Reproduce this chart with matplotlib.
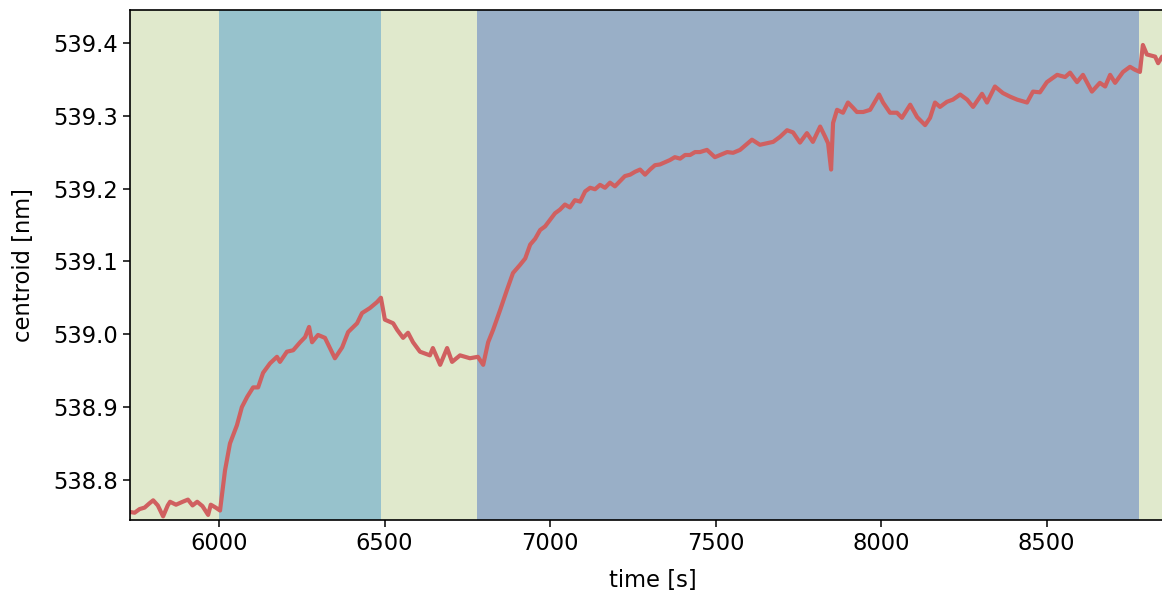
import numpy as np
import matplotlib
matplotlib.use("Agg")
import matplotlib.pyplot as plt

time_s = [5731, 5745, 5760, 5775, 5790, 5801, 5815, 5831, 5845, 5852, 5870, 5890,
          5906, 5920, 5934, 5950, 5967, 5975, 5990, 6003,
          6018, 6033, 6054, 6069, 6085, 6103, 6118, 6133, 6154, 6175, 6184, 6205,
          6224, 6245, 6260, 6272, 6281, 6299, 6320, 6335, 6350, 6372, 6390, 6417,
          6432, 6456, 6477, 6489, 6501, 6526, 6538, 6556, 6571, 6586, 6607, 6637,
          6646, 6668, 6689, 6704, 6728, 6758, 6782, 6798, 6813, 6828, 6849, 6870,
          6888, 6909, 6925, 6940, 6955, 6970, 6985, 7000, 7015, 7030, 7045, 7060,
          7075, 7091, 7106, 7121, 7136, 7151, 7166, 7181, 7196, 7211, 7226, 7242,
          7257, 7272, 7287, 7302, 7317, 7332, 7347, 7362, 7377, 7393, 7408, 7423,
          7438, 7453, 7474, 7498, 7535, 7553,
          7574, 7610, 7634, 7674, 7695, 7716, 7734, 7755, 7776, 7794, 7816, 7831,
          7840, 7849, 7855, 7867, 7885, 7900, 7915, 7927, 7946, 7967, 7994, 8006,
          8027, 8048, 8063, 8088, 8109, 8133, 8148, 8163, 8178, 8199, 8217, 8239,
          8260, 8278, 8305, 8320, 8344, 8368, 8390, 8411, 8441, 8459, 8480, 8501,
          8532, 8556, 8571, 8592, 8610, 8637, 8661, 8677, 8692, 8707, 8731, 8752,
          8767, 8782, 8791, 8803, 8828, 8837, 8849, 8870]
centroid_nm = [538.756, 538.755, 538.760, 538.762, 538.768, 538.772, 538.765, 538.750,
               538.765, 538.770, 538.766, 538.770, 538.773, 538.765, 538.770, 538.764,
               538.752, 538.766, 538.762, 538.758,
               538.813, 538.850, 538.875, 538.900, 538.914, 538.927, 538.927, 538.947,
               538.960, 538.969, 538.962, 538.976, 538.978, 538.989, 538.996, 539.010,
               538.989, 538.999, 538.995, 538.981, 538.967, 538.982, 539.003, 539.015,
               539.029, 539.036, 539.044, 539.050, 539.020, 539.015, 539.006, 538.995,
               539.002, 538.989, 538.976, 538.971, 538.981, 538.958, 538.981, 538.962,
               538.971, 538.967, 538.969, 538.958, 538.989, 539.006, 539.033, 539.061,
               539.084, 539.095, 539.104, 539.123, 539.131, 539.143, 539.148, 539.157,
               539.166, 539.171, 539.178, 539.174, 539.184, 539.182, 539.196, 539.201,
               539.199, 539.205, 539.201, 539.208, 539.203, 539.210, 539.217, 539.219,
               539.223, 539.226, 539.219, 539.226, 539.232, 539.233, 539.236, 539.239,
               539.243, 539.241, 539.246, 539.246, 539.250, 539.250, 539.253, 539.243,
               539.250, 539.249,
               539.253, 539.267, 539.260, 539.264, 539.271, 539.280, 539.277, 539.263,
               539.276, 539.264, 539.285, 539.271, 539.262, 539.226, 539.290, 539.308,
               539.304, 539.318, 539.311, 539.305, 539.305, 539.308, 539.329, 539.318,
               539.304, 539.304, 539.297, 539.315, 539.298, 539.287, 539.297, 539.318,
               539.312, 539.319, 539.322, 539.329, 539.322, 539.312, 539.330, 539.318,
               539.340, 539.331, 539.326, 539.322, 539.318, 539.333, 539.332, 539.346,
               539.356, 539.353, 539.359, 539.346, 539.356, 539.333, 539.345, 539.340,
               539.356, 539.345, 539.360, 539.367, 539.363, 539.360, 539.397, 539.384,
               539.381, 539.372, 539.381, 539.378]

# phases shown as coloured background bands
phase_edges = [5700, 6000, 6490, 6780, 8780, 8950]
phase_colors = ["#e0e9cc", "#97c2cc", "#e0e9cc", "#99afc7", "#e0e9cc"]

fig = plt.figure(figsize=(11.62, 5.91), dpi=100)
ax = fig.add_axes([130 / 1162, 71 / 591, 1045 / 1162, 510 / 591])

for lo, hi, c in zip(phase_edges[:-1], phase_edges[1:], phase_colors):
    ax.axvspan(lo, hi, color=c, lw=0, zorder=0)

ax.plot(time_s, centroid_nm, color="#d06060", lw=3.0, zorder=2)

ax.set_xlim(5731, 8888)
ax.set_ylim(538.745, 539.445)
ax.set_xticks([6000, 6500, 7000, 7500, 8000, 8500])
ax.set_yticks([538.8, 538.9, 539.0, 539.1, 539.2, 539.3, 539.4])
ax.tick_params(labelsize=16.3, length=5, width=1.1)
for s in ax.spines.values():
    s.set_linewidth(1.2)

ax.set_xlabel("time [s]", fontsize=16.3, labelpad=10)
ax.set_ylabel("centroid [nm]", fontsize=16.3, labelpad=13)

fig.savefig("out.png", dpi=100)
